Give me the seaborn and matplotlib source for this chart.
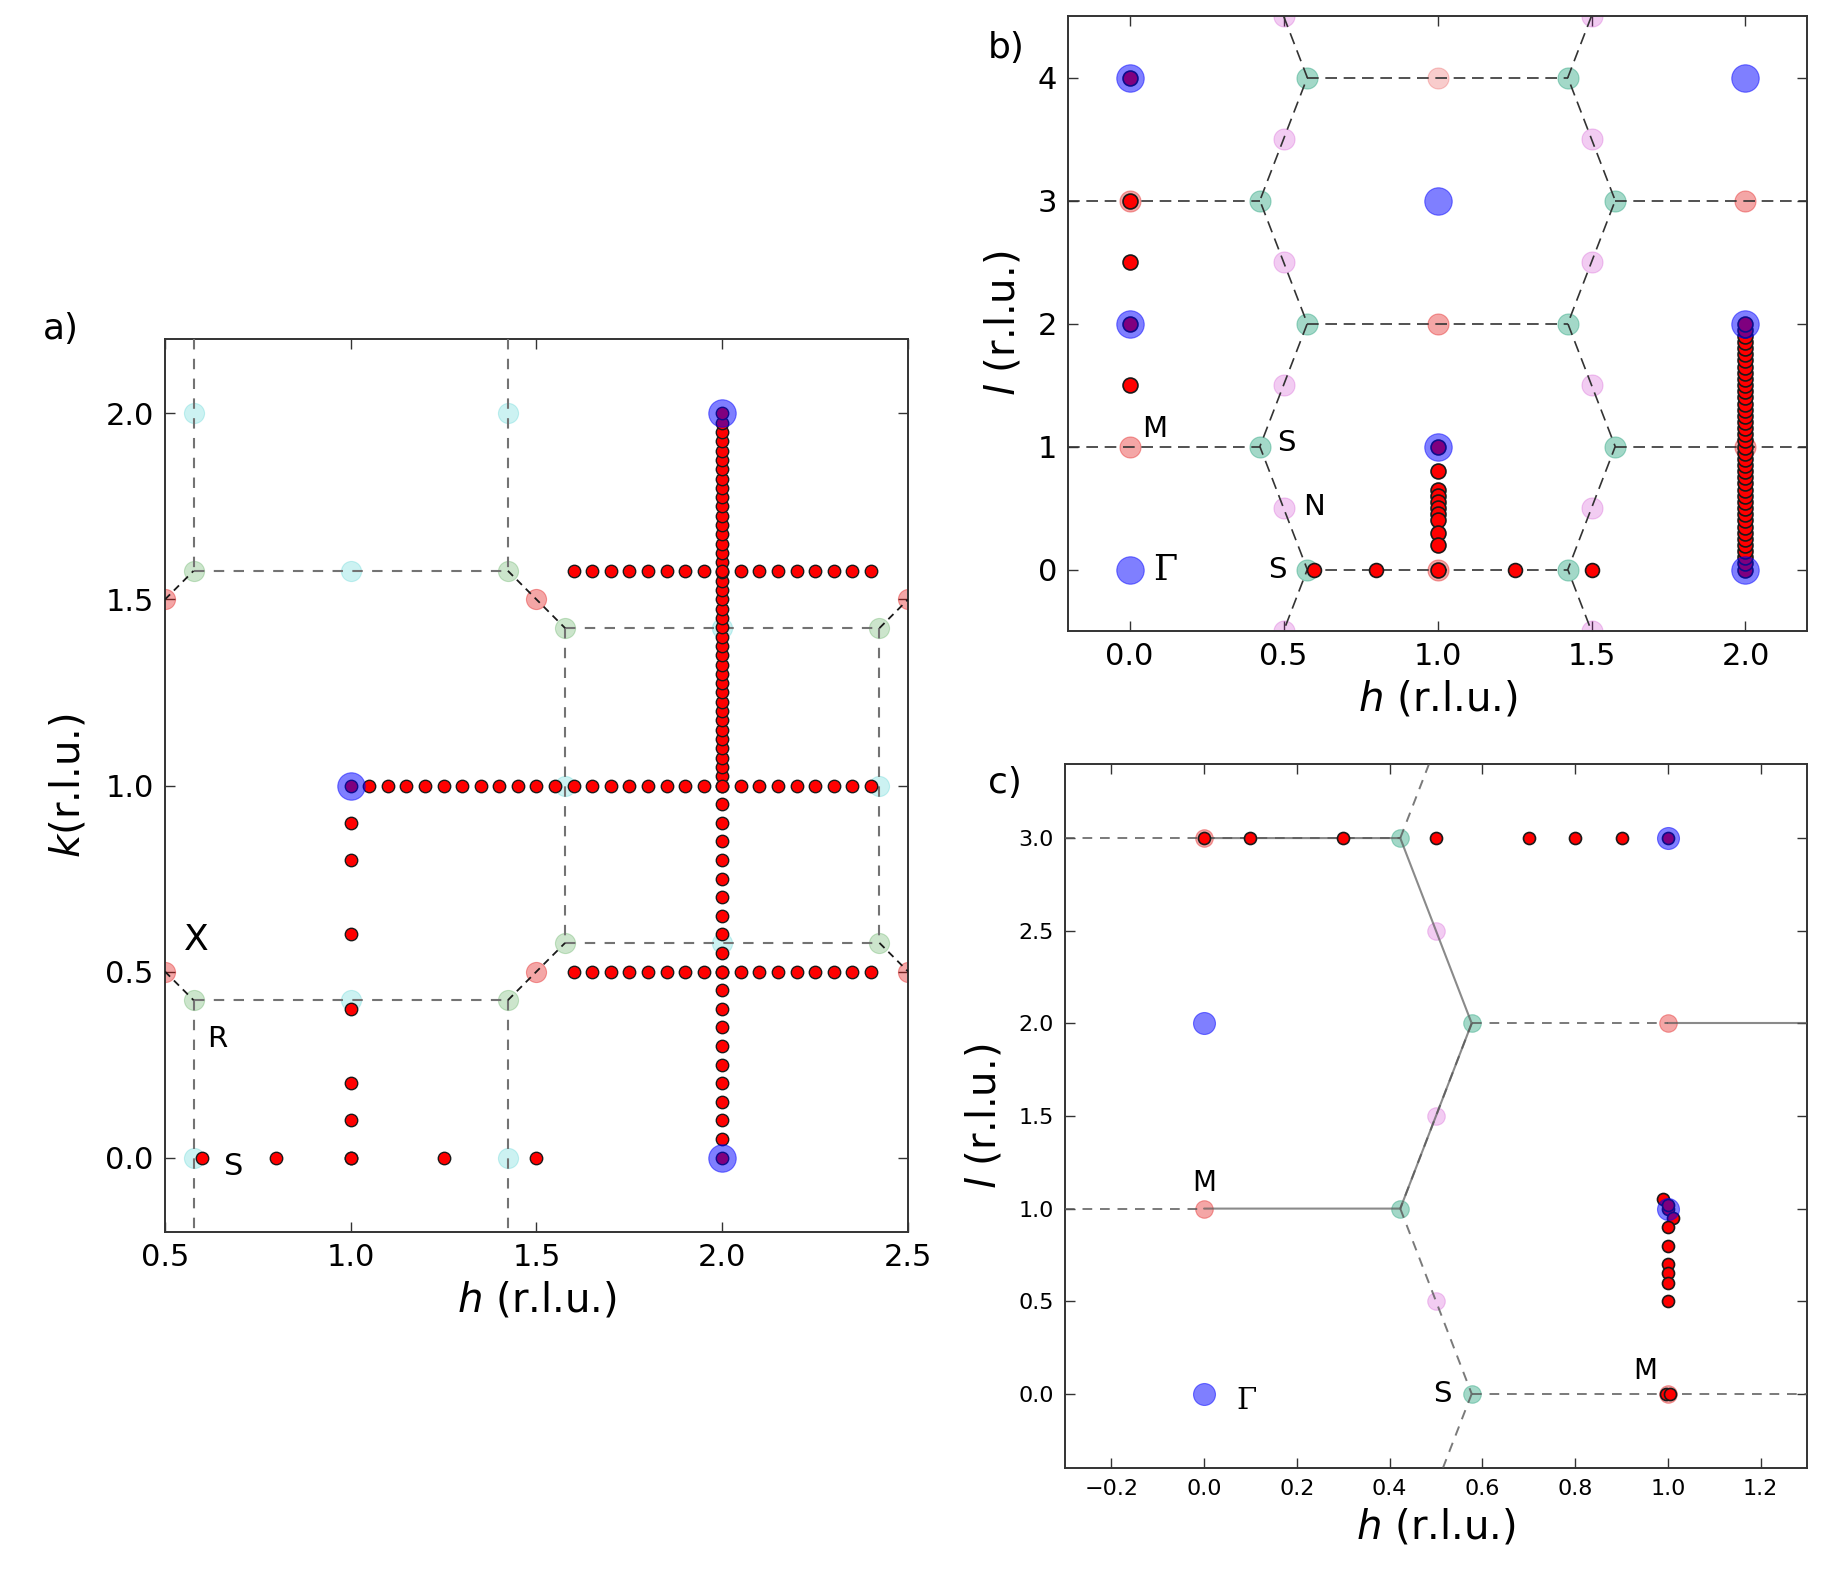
import matplotlib
matplotlib.use('Agg')
import matplotlib.pyplot as plt
import seaborn as sns

sns.set_theme(style='white')
plt.rcParams['font.family'] = ['DejaVu Sans']
plt.rcParams['mathtext.fontset'] = 'dejavusans'
plt.rcParams['axes.unicode_minus'] = True
plt.rcParams['text.color'] = 'black'
plt.rcParams['axes.labelcolor'] = 'black'

########################################################
# panel a) (h, k) plane
A_GAMMA_H = [2.0, 1.0, 2.0]
A_GAMMA_K = [2.0, 1.0, 0.0]
A_MID_H = [0.577, 1.423, 1.0, 1.577, 2.423, 2.0, 2.0, 1.0, 0.577, 1.423]
A_MID_K = [2.0, 2.0, 1.577, 1.0, 1.0, 1.423, 0.577, 0.423, 0.0, 0.0]
A_CORNER_H = [0.577, 1.423, 1.577, 2.423, 1.577, 2.423, 0.577, 1.423]
A_CORNER_K = [1.577, 1.577, 1.423, 1.423, 0.577, 0.577, 0.423, 0.423]
A_EDGE_H = [0.5, 1.5, 2.5, 0.5, 1.5, 2.5]
A_EDGE_K = [1.5, 1.5, 1.5, 0.5, 0.5, 0.5]

# measured points
A_COL2_K = [0.0, 0.05, 0.1, 0.15, 0.2, 0.25, 0.3, 0.35, 0.4, 0.45, 0.5, 0.55,
            0.6, 0.65, 0.7, 0.75, 0.8, 0.85, 0.9, 0.95,
            1.0, 1.025, 1.05, 1.075, 1.1, 1.125, 1.15, 1.175, 1.2, 1.225, 1.25,
            1.275, 1.3, 1.325, 1.35, 1.375, 1.4, 1.425, 1.45, 1.475, 1.5, 1.525,
            1.55, 1.575, 1.6, 1.625, 1.65, 1.675, 1.7, 1.725, 1.75, 1.775, 1.8,
            1.825, 1.85, 1.875, 1.9, 1.925, 1.95, 1.975, 2.0]
A_COL1_K = [1.0, 0.9, 0.8, 0.6, 0.4, 0.2, 0.1, 0.0]
A_ROW1_H = [1.05, 1.1, 1.15, 1.2, 1.25, 1.3, 1.35, 1.4, 1.45, 1.5, 1.55, 1.6,
            1.65, 1.7, 1.75, 1.8, 1.85, 1.9, 1.95, 2.0, 2.05, 2.1, 2.15, 2.2,
            2.25, 2.3, 2.35, 2.4]
A_ROWX_H = [1.6, 1.65, 1.7, 1.75, 1.8, 1.85, 1.9, 1.95, 2.0, 2.05, 2.1, 2.15,
            2.2, 2.25, 2.3, 2.35, 2.4]
A_ROWX_K = [1.577, 0.5]
A_ROW0_H = [0.6, 0.8, 1.0, 1.25, 1.5]

# zone boundaries
A_GRID = [([0.577, 0.577], [2.2, 1.577]), ([1.423, 1.423], [2.2, 1.577]),
          ([0.577, 1.423], [1.577, 1.577]),
          ([1.577, 2.423], [1.423, 1.423]), ([1.577, 1.577], [1.423, 0.577]),
          ([2.423, 2.423], [1.423, 0.577]), ([1.577, 2.423], [0.577, 0.577]),
          ([0.577, 1.423], [0.423, 0.423]), ([0.577, 0.577], [0.423, -0.2]),
          ([1.423, 1.423], [0.423, -0.2])]
A_DIAG = [([0.5, 0.577], [1.5, 1.577]), ([1.423, 1.577], [1.577, 1.423]),
          ([2.423, 2.5], [1.423, 1.5]), ([2.423, 2.5], [0.577, 0.5]),
          ([1.423, 1.577], [0.423, 0.577]), ([0.5, 0.577], [0.5, 0.423])]

########################################################
# panel b) (h, l) plane
B_GAMMA_H = [0.0, 0.0, 0.0, 1.0, 1.0, 2.0, 2.0, 2.0]
B_GAMMA_L = [4.0, 2.0, 0.0, 3.0, 1.0, 4.0, 2.0, 0.0]
B_M_H = [0.0, 0.0, 1.0, 1.0, 2.0, 2.0]
B_M_L = [3.0, 1.0, 2.0, 0.0, 3.0, 1.0]
B_M_FAINT_H = [1.0]
B_M_FAINT_L = [4.0]
B_S_H = [0.577, 0.423, 0.577, 0.423, 0.577, 1.423, 1.577, 1.423, 1.577, 1.423]
B_S_L = [4.0, 3.0, 2.0, 1.0, 0.0, 4.0, 3.0, 2.0, 1.0, 0.0]
B_N_H = [0.5, 0.5, 0.5, 0.5, 0.5, 0.5, 1.5, 1.5, 1.5, 1.5, 1.5, 1.5]
B_N_L = [4.5, 3.5, 2.5, 1.5, 0.5, -0.5, 4.5, 3.5, 2.5, 1.5, 0.5, -0.5]

B_COL0_L = [4.0, 3.0, 2.5, 2.0, 1.5]
B_COL1_L = [1.0, 0.8, 0.65, 0.6, 0.55, 0.5, 0.45, 0.4, 0.3, 0.2, 0.0]
B_COL2_L = [0.0, 0.05, 0.1, 0.15, 0.2, 0.25, 0.3, 0.35, 0.4, 0.45, 0.5, 0.55,
            0.6, 0.65, 0.7, 0.75, 0.8, 0.85, 0.9, 0.95, 1.0, 1.05, 1.1, 1.15,
            1.2, 1.25, 1.3, 1.35, 1.4, 1.45, 1.5, 1.55, 1.6, 1.65, 1.7, 1.75,
            1.8, 1.85, 1.9, 1.95, 2.0]
B_ROW0_H = [0.6, 0.8, 1.25, 1.5]

B_ZIG = [([0.423, 0.577, 0.423, 0.577, 0.423, 0.577, 0.423],
          [5.0, 4.0, 3.0, 2.0, 1.0, 0.0, -1.0]),
         ([1.577, 1.423, 1.577, 1.423, 1.577, 1.423, 1.577],
          [5.0, 4.0, 3.0, 2.0, 1.0, 0.0, -1.0])]
B_HOR = [([0.577, 1.423], [4.0, 4.0]), ([0.577, 1.423], [2.0, 2.0]),
         ([0.577, 1.423], [0.0, 0.0]),
         ([-0.2, 0.423], [3.0, 3.0]), ([1.577, 2.2], [3.0, 3.0]),
         ([-0.2, 0.423], [1.0, 1.0]), ([1.577, 2.2], [1.0, 1.0])]

########################################################
# panel c) (h, l) plane, zoomed
C_GAMMA_H = [0.0, 0.0, 1.0, 1.0]
C_GAMMA_L = [2.0, 0.0, 3.0, 1.0]
C_M_H = [0.0, 0.0, 1.0, 1.0]
C_M_L = [3.0, 1.0, 2.0, 0.0]
C_S_H = [0.423, 0.577, 0.423, 0.577]
C_S_L = [3.0, 2.0, 1.0, 0.0]
C_N_H = [0.5, 0.5, 0.5]
C_N_L = [2.5, 1.5, 0.5]

C_ROW3_H = [0.0, 0.1, 0.3, 0.5, 0.7, 0.8, 0.9, 1.0]
C_COL1_H = [0.99, 1.0, 1.0, 1.01, 1.0, 1.0, 1.0, 1.0, 1.0, 1.0, 0.995, 1.005]
C_COL1_L = [1.05, 1.0, 1.02, 0.95, 0.9, 0.8, 0.7, 0.65, 0.6, 0.5, 0.0, 0.0]

C_SOLID = [([0.0, 0.423, 0.577, 0.423, 0.0], [3.0, 3.0, 2.0, 1.0, 1.0]),
           ([1.0, 1.3], [2.0, 2.0])]
C_DASH = [([-0.3, 0.423], [3.0, 3.0]), ([0.423, 0.485], [3.0, 3.4]),
          ([0.577, 1.0], [2.0, 2.0]), ([-0.3, 0.0], [1.0, 1.0]),
          ([0.423, 0.577], [1.0, 0.0]), ([0.577, 0.515], [0.0, -0.4]),
          ([0.577, 1.3], [0.0, 0.0]), ([0.577, 0.423], [2.0, 1.0])]

########################################################
def dots(ax, x, y, color, size, alpha=1.0, edge=None, lw=0.8, z=2):
    sns.scatterplot(x=x, y=y, ax=ax, s=size, color=color, alpha=alpha,
                    edgecolor=edge if edge else color, linewidth=lw,
                    zorder=z, legend=False)


def segs(ax, lst, color, lw, dashes=None, alpha=1.0):
    for xs, ys in lst:
        if dashes:
            ax.plot(xs, ys, color=color, lw=lw, dashes=dashes, alpha=alpha, zorder=3)
        else:
            ax.plot(xs, ys, color=color, lw=lw, alpha=alpha, zorder=3)


def style(ax, tick_size):
    ax.tick_params(direction='in', length=7, width=1, top=True, right=True,
                   bottom=True, left=True, labelsize=tick_size, pad=8,
                   color='0.2', labelcolor='black')
    for sp in ax.spines.values():
        sp.set_color('0.2')
        sp.set_linewidth(1.4)
    ax.grid(False)


RED = '#ff0000'
fig = plt.figure(figsize=(18.37, 15.88), dpi=100)

# ---------------- a)
ax = fig.add_axes([0.0898, 0.2242, 0.4045, 0.5623])
segs(ax, A_GRID, '0.45', 1.5, dashes=(5, 4.5))
segs(ax, A_DIAG, '0.1', 1.3, dashes=(4, 3))
dots(ax, A_MID_H, A_MID_K, '#00bfbf', 210, alpha=0.2)
dots(ax, A_CORNER_H, A_CORNER_K, '#008000', 210, alpha=0.2)
dots(ax, A_EDGE_H, A_EDGE_K, '#e00000', 210, alpha=0.35)
dots(ax, [2.0] * len(A_COL2_K), A_COL2_K, RED, 80, edge='k', lw=1.0, z=4)
dots(ax, [1.0] * len(A_COL1_K), A_COL1_K, RED, 80, edge='k', lw=1.0, z=4)
dots(ax, A_ROW1_H, [1.0] * len(A_ROW1_H), RED, 80, edge='k', lw=1.0, z=4)
for kk in A_ROWX_K:
    dots(ax, A_ROWX_H, [kk] * len(A_ROWX_H), RED, 80, edge='k', lw=1.0, z=4)
dots(ax, A_ROW0_H, [0.0] * len(A_ROW0_H), RED, 80, edge='k', lw=1.0, z=4)
dots(ax, A_GAMMA_H, A_GAMMA_K, '#0000ff', 390, alpha=0.5, z=5)
ax.text(0.585, 0.585, 'X', fontsize=26, ha='center', va='center')
ax.text(0.64, 0.32, 'R', fontsize=21, ha='center', va='center')
ax.text(0.685, -0.025, 'S', fontsize=22, ha='center', va='center')
ax.set_xlim(0.5, 2.5)
ax.set_ylim(-0.2, 2.2)
ax.set_xticks([0.5, 1.0, 1.5, 2.0, 2.5])
ax.set_yticks([0.0, 0.5, 1.0, 1.5, 2.0])
style(ax, 22)
ax.set_xlabel('$h$ (r.l.u.)', fontsize=29, labelpad=6)
ax.set_ylabel('$k$(r.l.u.)', fontsize=29, labelpad=12)

# ---------------- b)
ax = fig.add_axes([0.5814, 0.6026, 0.4023, 0.3873])
segs(ax, B_ZIG, '0.2', 1.2, dashes=(7, 4))
segs(ax, B_HOR, '0.2', 1.2, dashes=(7, 4))
dots(ax, B_S_H, B_S_L, '#1a9e76', 230, alpha=0.4)
dots(ax, B_N_H, B_N_L, '#bf00bf', 230, alpha=0.2)
dots(ax, B_M_H, B_M_L, '#e00000', 230, alpha=0.35)
dots(ax, B_M_FAINT_H, B_M_FAINT_L, '#e00000', 230, alpha=0.2)
dots(ax, [0.0] * len(B_COL0_L), B_COL0_L, RED, 115, edge='k', lw=1.2, z=4)
dots(ax, [1.0] * len(B_COL1_L), B_COL1_L, RED, 115, edge='k', lw=1.2, z=4)
dots(ax, [2.0] * len(B_COL2_L), B_COL2_L, RED, 115, edge='k', lw=1.2, z=4)
dots(ax, B_ROW0_H, [0.0] * len(B_ROW0_H), RED, 100, edge='k', lw=1.2, z=4)
dots(ax, B_GAMMA_H, B_GAMMA_L, '#0000ff', 390, alpha=0.5, z=5)
ax.text(0.08, 1.14, 'M', fontsize=21, ha='center', va='center')
ax.text(0.51, 1.03, 'S', fontsize=21, ha='center', va='center')
ax.text(0.60, 0.51, 'N', fontsize=21, ha='center', va='center')
ax.text(0.48, 0.0, 'S', fontsize=21, ha='center', va='center')
ax.text(0.115, 0.0, 'Γ', fontsize=25, ha='center', va='center', family='DejaVu Serif')
ax.set_xlim(-0.2, 2.2)
ax.set_ylim(-0.5, 4.5)
ax.set_xticks([0.0, 0.5, 1.0, 1.5, 2.0])
ax.set_yticks([0, 1, 2, 3, 4])
style(ax, 22)
ax.set_xlabel('$h$ (r.l.u.)', fontsize=29, labelpad=6)
ax.set_ylabel('$l$ (r.l.u.)', fontsize=29, labelpad=10)

# ---------------- c)
ax = fig.add_axes([0.5797, 0.0756, 0.404, 0.4433])
segs(ax, C_SOLID, '0.35', 1.5, alpha=0.7)
segs(ax, C_DASH, '0.35', 1.4, dashes=(5, 4), alpha=0.8)
dots(ax, C_S_H, C_S_L, '#1a9e76', 160, alpha=0.4)
dots(ax, C_N_H, C_N_L, '#bf00bf', 160, alpha=0.2)
dots(ax, C_M_H, C_M_L, '#e00000', 160, alpha=0.35)
dots(ax, C_ROW3_H, [3.0] * len(C_ROW3_H), RED, 75, edge='k', lw=1.2, z=4)
dots(ax, C_COL1_H, C_COL1_L, RED, 75, edge='k', lw=1.2, z=4)
dots(ax, C_GAMMA_H, C_GAMMA_L, '#0000ff', 250, alpha=0.5, z=5)
ax.text(0.0, 1.14, 'M', fontsize=20, ha='center', va='center')
ax.text(0.952, 0.125, 'M', fontsize=20, ha='center', va='center')
ax.text(0.514, 0.0, 'S', fontsize=21, ha='center', va='center')
ax.text(0.092, -0.04, 'Γ', fontsize=21, ha='center', va='center', family='DejaVu Serif')
ax.set_xlim(-0.3, 1.3)
ax.set_ylim(-0.4, 3.4)
ax.set_xticks([-0.2, 0.0, 0.2, 0.4, 0.6, 0.8, 1.0, 1.2])
ax.set_yticks([0.0, 0.5, 1.0, 1.5, 2.0, 2.5, 3.0])
style(ax, 16)
ax.set_xlabel('$h$ (r.l.u.)', fontsize=29, labelpad=6)
ax.set_ylabel('$l$ (r.l.u.)', fontsize=29, labelpad=10)

fig.text(0.0234, 0.793, 'a)', fontsize=26, ha='left', va='center')
fig.text(0.5378, 0.970, 'b)', fontsize=26, ha='left', va='center')
fig.text(0.5378, 0.507, 'c)', fontsize=26, ha='left', va='center')

fig.savefig('out.png', dpi=100)
